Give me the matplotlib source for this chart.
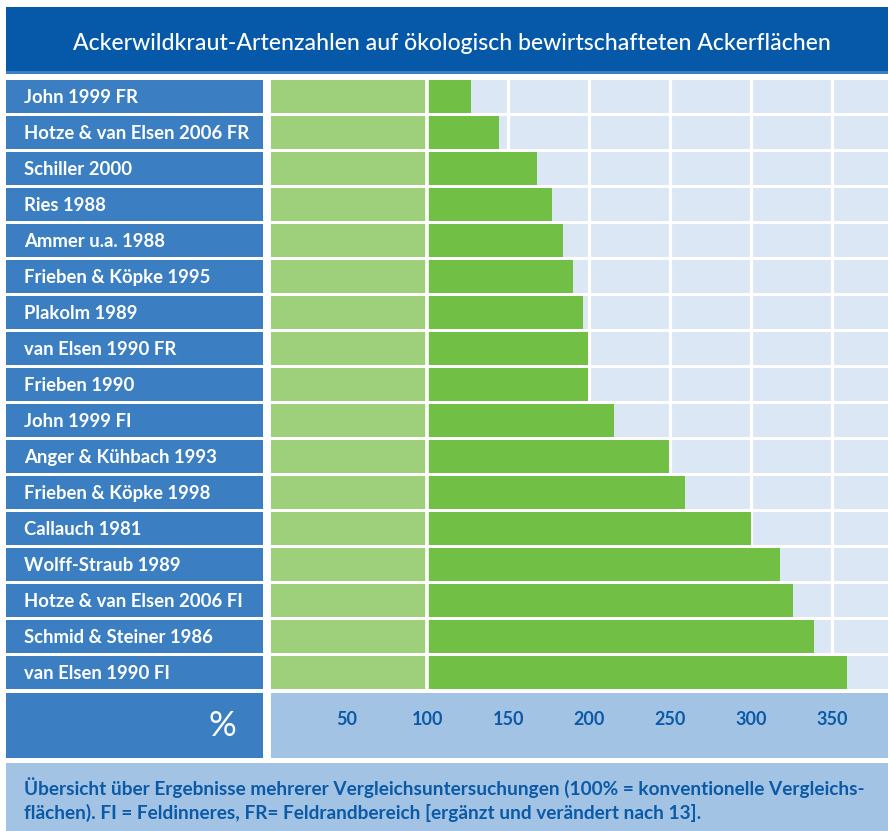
"""
Ackerwildkraut-Artenzahlen: horizontal bar chart in an infographic frame
"""
import matplotlib
matplotlib.use('Agg')
import matplotlib.pyplot as plt
from matplotlib.patches import Rectangle
from matplotlib.transforms import blended_transform_factory

# Data (percent of conventional reference = 100)
studies = ['John 1999 FR', 'Hotze & van Elsen 2006 FR', 'Schiller 2000', 'Ries 1988',
           'Ammer u.a. 1988', 'Frieben & Köpke 1995', 'Plakolm 1989', 'van Elsen 1990 FR',
           'Frieben 1990', 'John 1999 FI', 'Anger & Kühbach 1993', 'Frieben & Köpke 1998',
           'Callauch 1981', 'Wolff-Straub 1989', 'Hotze & van Elsen 2006 FI',
           'Schmid & Steiner 1986', 'van Elsen 1990 FI']
values = [127, 144, 168, 177, 184, 190, 196, 199, 199, 215, 249, 259, 300, 318, 326, 339, 359]
reference = 100
ticks = [50, 100, 150, 200, 250, 300, 350]

title = 'Ackerwildkraut-Artenzahlen auf ökologisch bewirtschafteten Ackerflächen'
caption = ('Übersicht über Ergebnisse mehrerer Vergleichsuntersuchungen (100% = konventionelle Vergleichs-\n'
           'flächen). FI = Feldinneres, FR= Feldrandbereich [ergänzt und verändert nach 13].')

# Colours
c_title = '#0559a8'
c_stripe = '#3a80c3'
c_label = '#3b7fc2'
c_rowbg = '#dce7f5'
c_light = '#9ecf7a'
c_dark = '#72bf45'
c_axis = '#a3c3e5'
c_text = '#0b5aa6'

plt.rcParams['font.family'] = ['Lato', 'DejaVu Sans']

W, H = 888, 831
fig = plt.figure(figsize=(W / 100, H / 100), dpi=100)


def px(x0, y0, x1, y1):
    # pixel box (top-left origin) -> figure fraction rect
    return [x0 / W, 1 - y1 / H, (x1 - x0) / W, (y1 - y0) / H]


def box(x0, y0, x1, y1, color):
    l, b, w, h = px(x0, y0, x1, y1)
    fig.patches.append(Rectangle((l, b), w, h, transform=fig.transFigure,
                                 facecolor=color, edgecolor='none', zorder=0))


# Title bar
box(6, 7, W, 72, c_title)
box(6, 71, W, 74, c_stripe)
fig.text(452 / W, 1 - 43 / H, title, color='white', fontsize=16.6,
         ha='center', va='center', fontweight='medium')

# Main bar area
n = len(studies)
ypos = list(range(n))
xmin, xmax = 3.5, 384.4
ax = fig.add_axes(px(271, 78.2, W, 690.2))
ax.set_xlim(xmin, xmax)
ax.set_ylim(n - 0.5, -0.5)
ax.axis('off')
bh = 33.4 / 36
ax.barh(ypos, [xmax] * n, left=0, height=bh, color=c_rowbg, zorder=1)
for t in ticks:
    ax.axvline(t, color='white', lw=2.3, zorder=2)
ax.barh(ypos, [reference] * n, left=0, height=bh, color=c_light, zorder=3)
ax.barh(ypos, [v - reference for v in values], left=reference, height=bh,
        color=c_dark, zorder=3)
ax.axvline(reference, color='white', lw=2.6, zorder=4)

# Label cells
axl = fig.add_axes(px(6, 78.2, 263, 690.2), sharey=ax)
axl.set_xlim(0, 1)
axl.axis('off')
axl.barh(ypos, [1] * n, left=0, height=bh, color=c_label)
for i, s in enumerate(studies):
    axl.text(18 / 257, i + 0.04, s, color='white', fontsize=13.3, fontweight='bold',
             ha='left', va='center')

# Axis row
box(6, 693, 263, 758, c_label)
fig.text(222 / W, 1 - 726 / H, '%', color='white', fontsize=25, ha='center',
         va='center')
axt = fig.add_axes(px(271, 693, W, 758), sharex=ax)
axt.set_facecolor(c_axis)
for sp in axt.spines.values():
    sp.set_visible(False)
axt.tick_params(left=False, bottom=False, labelleft=False, labelbottom=False)
tr = blended_transform_factory(axt.transData, axt.transAxes)
for t in ticks:
    axt.text(t, 0.59, str(t), transform=tr, color=c_text, fontsize=13,
             fontweight='bold', ha='center', va='center')

# Caption
box(6, 763, W, H, c_axis)
fig.text(24 / W, 1 - 800 / H, caption, color=c_text, fontsize=13.65,
         fontweight='bold', ha='left', va='center', linespacing=1.4)

fig.savefig('out.png', dpi=100, facecolor='white')
